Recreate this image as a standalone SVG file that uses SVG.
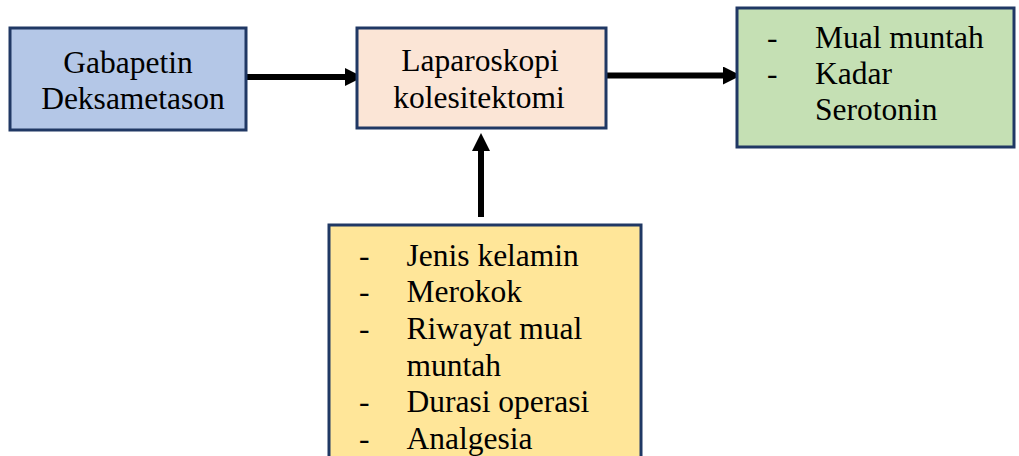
<svg xmlns="http://www.w3.org/2000/svg" width="1019" height="456" viewBox="0 0 1019 456">
<style>
.box{stroke:#203864;stroke-width:3}
.t{font-family:"Liberation Serif","Times New Roman",serif;font-size:31.5px;fill:#000}
.c{text-anchor:middle}
.ln{stroke:#000;stroke-width:6;fill:none}
</style>
<defs>
<marker id="ah" markerUnits="userSpaceOnUse" markerWidth="18" markerHeight="18" refX="0" refY="9" orient="auto" viewBox="0 0 18 18">
<path d="M0,0 L18,9 L0,18 Z" fill="#000"/>
</marker>
</defs>
<rect width="1019" height="456" fill="#fff"/>
<g id="connectors">
<line class="ln" x1="246" y1="77" x2="345" y2="77" marker-end="url(#ah)"/>
<line class="ln" x1="607" y1="75.5" x2="723" y2="75.5" marker-end="url(#ah)"/>
<line class="ln" x1="481" y1="217" x2="481" y2="151" marker-end="url(#ah)"/>
</g>
<g id="node-gabapetin">
<rect class="box" x="10" y="28" width="236" height="102" fill="#b4c7e7"/>
<text class="t c" x="128" y="73">Gabapetin</text>
<text class="t c" x="133" y="108.5">Deksametason</text>
</g>
<g id="node-laparoskopi">
<rect class="box" x="357" y="28" width="249" height="100" fill="#fbe5d6"/>
<text class="t c" x="480" y="71">Laparoskopi</text>
<text class="t c" x="479" y="107.5">kolesitektomi</text>
</g>
<g id="node-outcome">
<rect class="box" x="737" y="8" width="277" height="139" fill="#c5e0b4"/>
<text class="t" x="767" y="47.5">-</text>
<text class="t" x="815" y="47.5">Mual muntah</text>
<text class="t" x="767" y="84">-</text>
<text class="t" x="815" y="84">Kadar</text>
<text class="t" x="815" y="120">Serotonin</text>
</g>
<g id="node-confounders">
<rect class="box" x="329" y="225" width="312" height="245" fill="#ffe699"/>
<text class="t" x="359" y="265.7">-</text>
<text class="t" x="406.5" y="265.7">Jenis kelamin</text>
<text class="t" x="359" y="302.3">-</text>
<text class="t" x="406.5" y="302.3">Merokok</text>
<text class="t" x="359" y="339">-</text>
<text class="t" x="406.5" y="339">Riwayat mual</text>
<text class="t" x="406.5" y="375.6">muntah</text>
<text class="t" x="359" y="412.2">-</text>
<text class="t" x="406.5" y="412.2">Durasi operasi</text>
<text class="t" x="359" y="448.8">-</text>
<text class="t" x="406.5" y="448.8">Analgesia</text>
</g>
</svg>
